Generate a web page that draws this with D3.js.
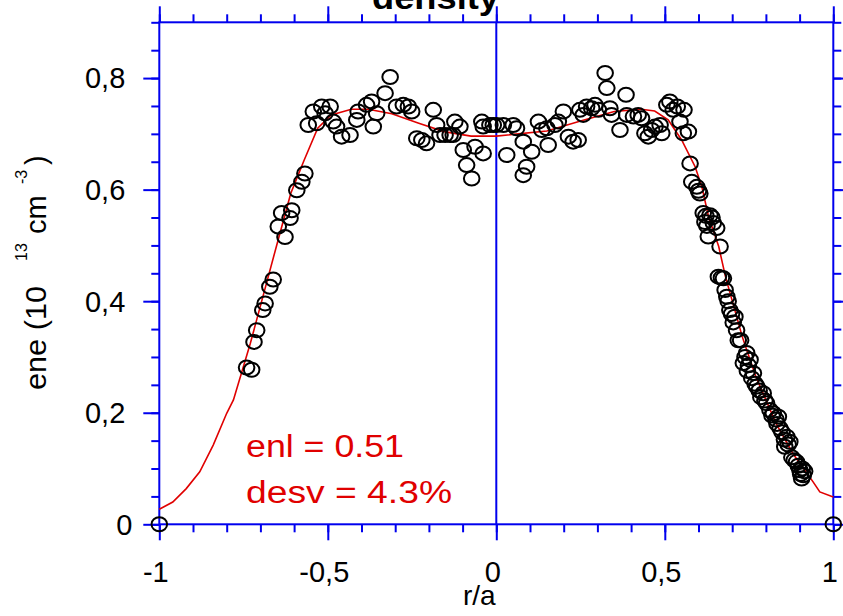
<!DOCTYPE html>
<html><head><meta charset="utf-8">
<script src="https://cdn.jsdelivr.net/npm/d3@7"></script>
<style>
body{margin:0;background:#fff}
svg{display:block}
text{font-family:"Liberation Sans", Arial, Helvetica, sans-serif}
</style>
</head><body>
<svg id="c" width="843" height="616"></svg>
<script>
// ---------- data ----------
const titleText = "density";
const xLabelText = "r/a";
const annotations = ["enl = 0.51", "desv = 4.3%"];

const xTickVals = [-1, -0.5, 0, 0.5, 1];
const xTickLabels = ["-1", "-0,5", "0", "0,5", "1"];
const yTickVals = [0, 0.2, 0.4, 0.6, 0.8];
const yTickLabels = ["0", "0,2", "0,4", "0,6", "0,8"];
const xMinorTicks = [-1,-0.9,-0.8,-0.7,-0.6,-0.5,-0.4,-0.3,-0.2,-0.1,0,0.1,0.2,0.3,0.4,0.5,0.6,0.7,0.8,0.9,1];
const yMinorTicks = [0,0.05,0.1,0.15,0.2,0.25,0.3,0.35,0.4,0.45,0.5,0.55,0.6,0.65,0.7,0.75,0.8,0.85,0.9];

// fitted profile (red line)
const fitX = [-1.00,-0.96,-0.92,-0.88,-0.84,-0.80,-0.78,-0.73,-0.69,-0.65,-0.61,-0.57,-0.53,-0.49,-0.43,-0.38,-0.31,-0.23,-0.155,-0.075,0.00,0.15,0.25,0.35,0.43,0.47,0.51,0.55,0.59,0.61,0.63,0.66,0.68,0.73,0.77,0.83,0.88,0.94,0.96,1.00];
const fitY = [0.027,0.040,0.064,0.094,0.142,0.199,0.223,0.324,0.414,0.504,0.593,0.653,0.710,0.734,0.744,0.744,0.736,0.719,0.704,0.696,0.696,0.705,0.723,0.740,0.744,0.741,0.725,0.689,0.641,0.605,0.551,0.498,0.444,0.336,0.265,0.181,0.127,0.076,0.058,0.049];

// measured points (circles)
const obsX = [-1, 1,
 -0.741,-0.726,-0.719,-0.711,-0.693,-0.686,-0.672,-0.662,-0.627,-0.647,-0.612,-0.637,-0.607,-0.592,-0.577,-0.568,
 -0.543,-0.518,-0.493,-0.508,-0.558,-0.533,-0.484,-0.474,-0.459,-0.434,-0.410,-0.414,-0.385,-0.370,-0.355,-0.365,-0.330,-0.315,-0.296,-0.276,-0.261,-0.251,-0.236,-0.221,-0.207,-0.187,-0.177,-0.167,-0.152,-0.137,-0.123,-0.108,-0.128,-0.098,-0.088,-0.073,-0.063,-0.039,-0.043,-0.039,-0.019,0.001,
 0.021,0.050,0.060,-0.009,0.031,0.080,0.105,0.090,0.080,0.125,0.135,0.154,0.150,0.174,0.184,0.199,0.214,0.228,0.243,0.248,0.258,0.268,0.283,0.293,0.303,0.323,0.328,0.337,0.342,0.367,0.385,0.387,0.407,0.421,0.431,0.441,0.451,0.461,0.471,0.486,0.491,0.506,0.515,0.525,0.537,0.545,0.557,0.570,0.555,
 0.575,0.580,0.595,0.604,0.614,0.634,0.644,0.619,0.629,0.654,0.664,0.659,0.674,0.679,0.684,0.693,0.708,0.713,0.718,0.743,0.753,0.733,0.763,0.773,0.792,0.802,0.822,0.837,0.842,0.862,0.871,0.856,0.891,0.901,0.911,0.906,
 0.600,0.622,0.640,0.625,0.668,0.688,0.698,0.703,0.725,0.738,0.748,0.745,0.758,0.768,0.780,0.785,0.797,0.812,0.818,0.830,0.833,0.848,0.855,0.866,0.877,0.884,0.896,0.903,0.915,0.908];
const obsY = [0, 0,
 0.281,0.277,0.327,0.348,0.384,0.396,0.426,0.439,0.515,0.534,0.549,0.558,0.563,0.599,0.614,0.629,
 0.740,0.749,0.749,0.737,0.716,0.719,0.722,0.713,0.695,0.698,0.740,0.725,0.752,0.758,0.737,0.713,0.773,0.802,0.749,0.752,0.749,0.740,0.692,0.689,0.683,0.743,0.716,0.698,0.698,0.698,0.722,0.713,0.698,0.671,0.644,0.620,0.677,0.665,0.722,0.713,0.716,0.716,
 0.716,0.716,0.710,0.716,0.662,0.686,0.668,0.641,0.626,0.722,0.707,0.680,0.710,0.716,0.722,0.740,0.695,0.686,0.689,0.743,0.734,0.749,0.746,0.752,0.743,0.809,0.782,0.746,0.734,0.707,0.770,0.734,0.731,0.734,0.728,0.701,0.695,0.707,0.713,0.716,0.701,0.752,0.758,0.743,0.749,0.722,0.743,0.704,0.701,
 0.647,0.614,0.605,0.593,0.558,0.554,0.540,0.542,0.516,0.531,0.498,0.444,0.441,0.420,0.408,0.384,0.372,0.348,0.330,0.307,0.295,0.289,0.271,0.247,0.235,0.217,0.199,0.193,0.172,0.157,0.148,0.139,0.112,0.097,0.088,0.082,
 0.598,0.553,0.550,0.535,0.442,0.400,0.377,0.362,0.330,0.300,0.285,0.275,0.262,0.252,0.240,0.228,0.222,0.205,0.195,0.188,0.180,0.165,0.152,0.143,0.120,0.115,0.105,0.090,0.095,0.100];

// ---------- drawing ----------
const BLUE = "#0000ee", RED = "#e00000";
const svg = d3.select("#c");
const x = d3.scaleLinear().domain([-1, 1]).range([159.3, 833.3]);
const y = d3.scaleLinear().domain([0, 0.9]).range([524.3, 22.3]);

function styleAxis(g) {
  g.select(".domain").remove();
  g.selectAll("line").attr("stroke", BLUE).attr("stroke-width", 2);
  g.selectAll("text").attr("fill", "#000").attr("font-size", 29);
}

// minor ticks
svg.append("g").attr("transform", `translate(0,${y(0)})`)
  .call(d3.axisBottom(x).tickValues(xMinorTicks).tickSize(8).tickFormat(""))
  .call(styleAxis);
svg.append("g").attr("transform", `translate(0,${y(0.9)})`)
  .call(d3.axisTop(x).tickValues(xMinorTicks).tickSize(8).tickFormat(""))
  .call(styleAxis);
svg.append("g").attr("transform", `translate(${x(-1)},0)`)
  .call(d3.axisLeft(y).tickValues(yMinorTicks).tickSize(8).tickFormat(""))
  .call(styleAxis);
svg.append("g").attr("transform", `translate(${x(1)},0)`)
  .call(d3.axisRight(y).tickValues(yMinorTicks).tickSize(8).tickFormat(""))
  .call(styleAxis);

// major ticks
const gxb = svg.append("g").attr("transform", `translate(0,${y(0)})`)
  .call(d3.axisBottom(x).tickValues(xTickVals).tickSize(16).tickPadding(21)
        .tickFormat((d, i) => xTickLabels[i]))
  .call(styleAxis);
gxb.selectAll("text").attr("dx", -4);
svg.append("g").attr("transform", `translate(0,${y(0.9)})`)
  .call(d3.axisTop(x).tickValues(xTickVals).tickSize(16).tickFormat(""))
  .call(styleAxis);
const gyl = svg.append("g").attr("transform", `translate(${x(-1)},0)`)
  .call(d3.axisLeft(y).tickValues(yTickVals).tickSize(16).tickPadding(18)
        .tickFormat((d, i) => yTickLabels[i]))
  .call(styleAxis);
gyl.selectAll("text").attr("dy", "0.34em").attr("dx", (d) => d === 0 ? 7 : 0);
svg.append("g").attr("transform", `translate(${x(1)},0)`)
  .call(d3.axisRight(y).tickValues(yTickVals).tickSize(16).tickFormat(""))
  .call(styleAxis);

// frame
svg.append("rect")
  .attr("x", x(-1)).attr("y", y(0.9))
  .attr("width", x(1) - x(-1)).attr("height", y(0) - y(0.9))
  .attr("fill", "none").attr("stroke", BLUE).attr("stroke-width", 2);

// zero line
svg.append("line")
  .attr("x1", x(0)).attr("x2", x(0)).attr("y1", y(0)).attr("y2", y(0.9))
  .attr("stroke", BLUE).attr("stroke-width", 2);

// fit line
const fitData = fitX.map((v, i) => [v, fitY[i]]);
svg.append("path").datum(fitData)
  .attr("fill", "none").attr("stroke", RED).attr("stroke-width", 1.6)
  .attr("d", d3.line().x(d => x(d[0])).y(d => y(d[1])));

// points
const obs = obsX.map((v, i) => [v, obsY[i]]);
svg.append("g").selectAll("ellipse").data(obs).join("ellipse")
  .attr("cx", d => x(d[0])).attr("cy", d => y(d[1]))
  .attr("rx", 7.8).attr("ry", 7)
  .attr("fill", "none").attr("stroke", "#000").attr("stroke-width", 2);

// annotations
svg.append("text").attr("x", 246).attr("y", 457)
  .attr("font-size", 31).attr("fill", RED)
  .attr("textLength", 158).attr("lengthAdjust", "spacingAndGlyphs")
  .text(annotations[0]);
svg.append("text").attr("x", 246).attr("y", 503)
  .attr("font-size", 31).attr("fill", RED)
  .attr("textLength", 206).attr("lengthAdjust", "spacingAndGlyphs")
  .text(annotations[1]);

// title
svg.append("text").attr("x", 372).attr("y", 9)
  .attr("font-size", 33).attr("font-weight", "bold").attr("fill", "#000")
  .attr("textLength", 127).attr("lengthAdjust", "spacingAndGlyphs")
  .text(titleText);

// x label
svg.append("text").attr("x", 463).attr("y", 605)
  .attr("font-size", 28).attr("fill", "#000").text(xLabelText);

// y label (rotated, with superscripts)
const yl = svg.append("g").attr("transform", "translate(46,0) rotate(-90)");
yl.append("text").attr("x", -390).attr("y", 0).attr("font-size", 29)
  .attr("textLength", 104).attr("lengthAdjust", "spacingAndGlyphs").text("ene (10");
yl.append("text").attr("x", -261).attr("y", -19).attr("font-size", 16).text("13");
yl.append("text").attr("x", -234).attr("y", 0).attr("font-size", 29).text("cm");
yl.append("text").attr("x", -184).attr("y", -19).attr("font-size", 16).text("-3");
yl.append("text").attr("x", -165).attr("y", 0).attr("font-size", 29).text(")");
</script>
</body></html>
